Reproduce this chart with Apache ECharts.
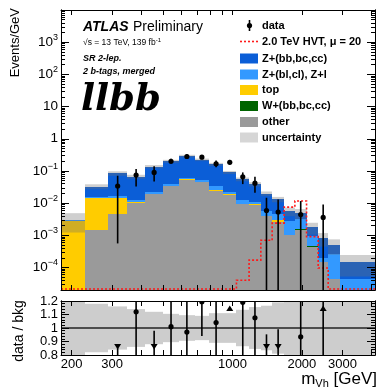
<!DOCTYPE html>
<html><head><meta charset="utf-8">
<script src="https://cdn.jsdelivr.net/npm/echarts@6/dist/echarts.min.js"></script>
<style>html,body{margin:0;padding:0;background:#fff}#c{width:379px;height:389px}</style>
</head><body><div id="c"></div>
<script>
// ---------- data ----------
const binEdges  = [180,228,289,348,418,499,586,685,791,910,1040,1180,1327,1486,1675,1865,2096,2354,2602,2926,4155];
const otherBkg  = [0,1.49e-3,4.6e-3,1.02e-2,1.88e-2,3.3e-2,5.3e-2,4.4e-2,2.4e-2,1.85e-2,9.1e-3,8.6e-3,3.9e-3,2.6e-3,1.03e-3,1.5e-3,4.3e-4,1.5e-4,4.4e-5,0];
const wHF       = [0,0,0,0,0,0,0,0,0,0,0,0,0,0,0,1.2e-4,3.5e-5,0,0,0];
const topBkg    = [2.85e-3,1.32e-2,9.4e-3,6e-4,1.1e-3,2e-3,3.2e-3,2.6e-3,1.4e-3,1.1e-3,5e-4,5e-4,2e-4,4e-4,0,0,0,0,0,0];
const zLight    = [5e-5,3e-4,2.6e-3,1.5e-3,3e-3,5e-3,5e-3,4e-3,8e-3,2.5e-3,2.5e-3,1.5e-3,1.5e-3,1.5e-3,1.67e-3,1.5e-3,4.6e-4,5e-5,2.26e-4,4.4e-5];
const zHF       = [1.5e-4,1.76e-2,6.74e-2,5.42e-2,0.113,0.160,0.229,0.171,0.127,0.068,0.0429,0.0282,0.0141,8.6e-3,2.9e-3,1.73e-3,8.25e-4,6.1e-4,2.3e-4,1.05e-4];
const bkgUnc    = [0.6,0.18,0.16,0.14,0.12,0.105,0.095,0.09,0.11,0.11,0.135,0.155,0.165,0.19,0.3,0.35,0.4,0.45,0.5,0.65];
const signalHVT = [0,0,0,0,0,0,0,0,0,0,4e-5,1.7e-4,7e-4,2.4e-3,7.5e-3,1.16e-2,9.1e-4,9.6e-5,0,0];
const dataVal   = [null,null,0.034,0.0745,0.090,0.20,0.281,0.267,0.166,0.186,0.066,0.0417,5.9e-3,5.3e-3,null,4.4e-3,null,3.6e-3,null,null];
const dataLo    = [null,null,5.6e-4,0.0327,0.047,0.166,0.24,0.23,0.13,0.155,0.039,0.021,0,0,null,0,null,0,null,null];
const dataHi    = [null,null,0.071,0.115,0.139,0.238,0.33,0.31,0.21,0.22,0.09,0.066,0.0147,0.013,null,0.0116,null,9.1e-3,null,null];
const ratioVal  = [null,null,0.40,1.12,0.66,1.01,0.97,1.195,1.04,2.07,1.19,1.076,0.30,0.40,null,0.935,null,4.4,null,null];
const ratioLo   = [null,null,0,0.5,0,0.7,0.7,0.94,0.7,1.6,0.7,0.7,0,0,null,0,null,0,null,null];
const ratioHi   = [null,null,0.85,1.6,0.98,1.4,1.4,1.6,1.4,2.6,1.4,1.4,0.953,0.99,null,1.6,null,9,null,null];
const xTickVals  = [200,300,400,500,600,700,800,900,1000,2000,3000,4000];
const xLabelVals = [200,300,1000,2000,3000];
const yMajorVals = [1e-4,1e-3,1e-2,1e-1,1,10,100,1000];
const rMajorVals = [0.8,0.9,1.0,1.1,1.2];

// ---------- settings ----------
const X_MIN = 180, X_MAX = 4155, Y_MIN = 2e-5, Y_MAX = 1e4, R_MIN = 0.8, R_MAX = 1.2;
const FONT = 'Liberation Sans';
const yMinorVals = [];
for (let e = -5; e <= 3; e++) for (let k = 2; k <= 9; k++) { const v = k * Math.pow(10, e); if (v > Y_MIN && v < Y_MAX) yMinorVals.push(+v.toPrecision(3)); }
const rMinorVals = [];
for (let v = 0.82; v < 1.2; v += 0.02) rMinorVals.push(+v.toFixed(2));

const comps  = [otherBkg, wHF, topBkg, zLight, zHF];
const colors = ['#9a9a9a', '#006400', '#ffcc00', '#3399ff', '#0b5ed7'];
const nb = zHF.length;
const totals = zHF.map((_, i) => comps.reduce((s, a) => s + a[i], 0));
const cy = v => Math.max(v, Y_MIN);
const binData = binEdges.slice(0, -1).map((lo, i) => [lo, binEdges[i + 1], i]);

function xAx(grid, pos, labels) {
  return {
    type: 'log', logBase: 10, gridIndex: grid, position: pos, min: X_MIN, max: X_MAX, z: 10,
    axisLine: { show: true, onZero: false, lineStyle: { color: '#000', width: 1 } },
    axisTick: { show: true, inside: true, length: 5, customValues: xTickVals, lineStyle: { color: '#000' } },
    axisLabel: labels ? { show: true, customValues: xLabelVals, margin: 3, hideOverlap: false, fontFamily: FONT, fontSize: 13, color: '#000', formatter: v => String(Math.round(v)) } : { show: false },
    splitLine: { show: false }
  };
}
function yAx(grid, pos, type, min, max, ticks, len, labels) {
  return {
    type: type, logBase: 10, gridIndex: grid, position: pos, min: min, max: max, z: 10,
    axisLine: { show: true, onZero: false, lineStyle: { color: '#000', width: 1 } },
    axisTick: { show: true, inside: true, length: len, customValues: ticks, lineStyle: { color: '#000' } },
    axisLabel: labels || { show: false },
    splitLine: { show: false }
  };
}
const mainLabel = {
  show: true, customValues: yMajorVals, margin: 3, fontFamily: FONT, color: '#000', hideOverlap: false,
  formatter: v => {
    const e = Math.round(Math.log10(v));
    if (e === 0) return '{b|1}';
    if (e === 1) return '{b|10}';
    return '{b|10}{s|' + (e < 0 ? '\u2212' : '') + Math.abs(e) + '}';
  },
  rich: { b: { fontFamily: FONT, fontSize: 13.5, color: '#000' }, s: { fontFamily: FONT, fontSize: 9, color: '#000', padding: [0, 0, 9, 0] } }
};
const ratioLabel = { show: true, customValues: rMajorVals, margin: 3, fontFamily: FONT, fontSize: 13, color: '#000',
  showMinLabel: true, showMaxLabel: true, hideOverlap: false,
  formatter: v => String(+v.toFixed(1)) };

const option = {
  animation: false,
  backgroundColor: '#fff',
  grid: [
    { left: 61, right: 4, top: 10, height: 280 },
    { left: 61, right: 4, top: 301, height: 54 }
  ],
  xAxis: [xAx(0, 'bottom', false), xAx(0, 'top', false), xAx(1, 'bottom', true), xAx(1, 'top', false)],
  yAxis: [
    yAx(0, 'left', 'log', Y_MIN, Y_MAX, yMajorVals, 8, mainLabel),
    yAx(0, 'left', 'log', Y_MIN, Y_MAX, yMinorVals, 4),
    yAx(0, 'right', 'log', Y_MIN, Y_MAX, yMajorVals, 8),
    yAx(0, 'right', 'log', Y_MIN, Y_MAX, yMinorVals, 4),
    yAx(1, 'left', 'value', R_MIN, R_MAX, rMajorVals, 8, ratioLabel),
    yAx(1, 'left', 'value', R_MIN, R_MAX, rMinorVals, 4),
    yAx(1, 'right', 'value', R_MIN, R_MAX, rMajorVals, 8),
    yAx(1, 'right', 'value', R_MIN, R_MAX, rMinorVals, 4)
  ],
  series: [
    { // stacked backgrounds
      type: 'custom', xAxisIndex: 0, yAxisIndex: 0, clip: true, data: binData,
      renderItem: (p, api) => {
        const lo = api.value(0), hi = api.value(1), i = api.value(2);
        let cum = 0; const ch = [];
        comps.forEach((arr, k) => {
          const v = arr[i]; if (!v) return;
          const b = cum, t = cum + v; cum = t;
          const a = api.coord([lo, cy(t)]), c = api.coord([hi, cy(b)]);
          const x0 = Math.round(a[0]), x1 = Math.round(c[0]), y0 = Math.round(a[1]), y1 = Math.round(c[1]);
          if (y1 > y0) ch.push({ type: 'rect', shape: { x: x0, y: y0, width: x1 - x0, height: y1 - y0 }, style: { fill: colors[k] } });
        });
        return { type: 'group', children: ch };
      }
    },
    { // uncertainty band (main)
      type: 'custom', xAxisIndex: 0, yAxisIndex: 0, clip: true, data: binData,
      renderItem: (p, api) => {
        const lo = api.value(0), hi = api.value(1), i = api.value(2);
        const a = api.coord([lo, cy(totals[i] * (1 + bkgUnc[i]))]), c = api.coord([hi, cy(totals[i] * (1 - bkgUnc[i]))]);
        return { type: 'rect', shape: { x: Math.round(a[0]), y: a[1], width: Math.round(c[0]) - Math.round(a[0]), height: c[1] - a[1] }, style: { fill: 'rgba(110,110,110,0.33)' } };
      }
    },
    { // signal
      type: 'custom', xAxisIndex: 0, yAxisIndex: 0, clip: true, data: [[X_MIN, 1]],
      renderItem: (p, api) => {
        const pts = [];
        for (let i = 0; i < nb; i++) {
          const v = cy(signalHVT[i]);
          pts.push(api.coord([binEdges[i], v]));
          pts.push(api.coord([binEdges[i + 1], v]));
        }
        return { type: 'polyline', shape: { points: pts.map(q => [q[0], Math.min(q[1], p.coordSys.y + p.coordSys.height - 1)]) }, style: { stroke: '#ff1a1a', lineWidth: 1.6, lineDash: [2, 2], fill: null } };
      }
    },
    { // data
      type: 'custom', xAxisIndex: 0, yAxisIndex: 0, clip: true,
      data: dataVal.map((v, i) => v == null ? null : [Math.sqrt(binEdges[i] * binEdges[i + 1]), v, i]).filter(Boolean),
      renderItem: (p, api) => {
        const x = api.value(0), v = api.value(1), i = api.value(2);
        const c = api.coord([x, v]), t = api.coord([x, cy(dataHi[i])]), b = api.coord([x, cy(dataLo[i])]);
        return { type: 'group', children: [
          { type: 'line', shape: { x1: c[0], y1: t[1], x2: c[0], y2: b[1] }, style: { stroke: '#000', lineWidth: 1.6 } },
          { type: 'circle', shape: { cx: c[0], cy: c[1], r: 2.6 }, style: { fill: '#000' } }
        ] };
      }
    },
    { // ratio band
      type: 'custom', xAxisIndex: 2, yAxisIndex: 4, clip: true, data: binData,
      renderItem: (p, api) => {
        const lo = api.value(0), hi = api.value(1), i = api.value(2);
        const a = api.coord([lo, Math.min(1 + bkgUnc[i], 1.3)]), c = api.coord([hi, Math.max(1 - bkgUnc[i], 0.7)]);
        return { type: 'rect', shape: { x: Math.round(a[0]), y: a[1], width: Math.round(c[0]) - Math.round(a[0]), height: c[1] - a[1] }, style: { fill: '#cdcdcd' } };
      }
    },
    { // line at 1
      type: 'custom', xAxisIndex: 2, yAxisIndex: 4, clip: true, data: [[X_MIN, 1]],
      renderItem: (p, api) => {
        const a = api.coord([X_MIN, 1]), b = api.coord([X_MAX, 1]);
        return { type: 'line', shape: { x1: a[0], y1: a[1], x2: b[0], y2: b[1] }, style: { stroke: '#222', lineWidth: 1.6 } };
      }
    },
    { // ratio points
      type: 'custom', xAxisIndex: 2, yAxisIndex: 4, clip: true,
      data: ratioVal.map((v, i) => v == null ? null : [Math.sqrt(binEdges[i] * binEdges[i + 1]), v, i]).filter(Boolean),
      renderItem: (p, api) => {
        const x = api.value(0), v = api.value(1), i = api.value(2);
        const ch = [];
        const lo = Math.max(ratioLo[i], 0.7), hi = Math.min(ratioHi[i], 1.3);
        if (hi > R_MIN && lo < R_MAX) {
          const t = api.coord([x, hi]), b = api.coord([x, lo]);
          ch.push({ type: 'line', shape: { x1: t[0], y1: t[1], x2: b[0], y2: b[1] }, style: { stroke: '#000', lineWidth: 1.6 } });
        }
        if (v < R_MIN) {
          const c = api.coord([x, 0.863]);
          ch.push({ type: 'polygon', shape: { points: [[c[0] - 3.5, c[1] - 2.5], [c[0] + 3.5, c[1] - 2.5], [c[0], c[1] + 3]] }, style: { fill: '#000' } });
        } else if (v > R_MAX) {
          const c = api.coord([x, 1.145]);
          ch.push({ type: 'polygon', shape: { points: [[c[0] - 3.5, c[1] + 2.5], [c[0] + 3.5, c[1] + 2.5], [c[0], c[1] - 3]] }, style: { fill: '#000' } });
        } else {
          const c = api.coord([x, v]);
          ch.push({ type: 'circle', shape: { cx: c[0], cy: c[1], r: 2.6 }, style: { fill: '#000' } });
        }
        return { type: 'group', children: ch };
      }
    }
  ],
  graphic: [
    { type: 'text', x: 15, y: 8, rotation: Math.PI / 2, style: { text: 'Events/GeV', font: '13px "Liberation Sans"', fill: '#000', align: 'right', verticalAlign: 'middle' } },
    { type: 'text', x: 19, y: 331, rotation: Math.PI / 2, style: { text: 'data / bkg', font: '14px "Liberation Sans"', fill: '#000', align: 'center', verticalAlign: 'middle' } },
    { type: 'text', x: 377, y: 379, style: { text: '{m|m}{s|Vh}{g| [GeV]}', align: 'right', verticalAlign: 'middle', fill: '#000',
        rich: { m: { fontFamily: FONT, fontSize: 17 }, s: { fontFamily: FONT, fontSize: 11, padding: [9, 0, 0, 0] }, g: { fontFamily: FONT, fontSize: 17 } } } },
    { type: 'text', x: 83, y: 27, style: { text: 'ATLAS', font: 'italic bold 14px "Liberation Sans"', fill: '#000', verticalAlign: 'middle' } },
    { type: 'text', x: 133, y: 27, style: { text: 'Preliminary', font: '14px "Liberation Sans"', fill: '#000', verticalAlign: 'middle' } },
    { type: 'text', x: 83, y: 43, style: { text: '{a|\u221As = 13 TeV, 139 fb}{s|-1}', verticalAlign: 'middle', fill: '#000',
        rich: { a: { fontFamily: FONT, fontSize: 8.5 }, s: { fontFamily: FONT, fontSize: 6, padding: [0, 0, 6, 0] } } } },
    { type: 'text', x: 83, y: 59, style: { text: 'SR 2-lep.', font: 'italic bold 9px "Liberation Sans"', fill: '#000', verticalAlign: 'middle' } },
    { type: 'text', x: 83, y: 72, style: { text: '2 b-tags, merged', font: 'italic bold 9px "Liberation Sans"', fill: '#000', verticalAlign: 'middle' } },
    { type: 'text', x: 81, y: 100, style: { text: 'llbb', font: 'italic bold 37px "DejaVu Serif"', fill: '#000', verticalAlign: 'middle' } },
    // legend
    { type: 'line', shape: { x1: 249.5, y1: 20, x2: 249.5, y2: 31 }, style: { stroke: '#000', lineWidth: 1.6 } },
    { type: 'circle', shape: { cx: 249.5, cy: 25.5, r: 2.6 }, style: { fill: '#000' } },
    { type: 'text', x: 262, y: 25.5, style: { text: 'data', font: 'bold 11px "Liberation Sans"', fill: '#000', verticalAlign: 'middle' } },
    { type: 'line', shape: { x1: 240, y1: 41.5, x2: 259, y2: 41.5 }, style: { stroke: '#ff1a1a', lineWidth: 1.6, lineDash: [2, 2] } },
    { type: 'text', x: 262, y: 41.5, style: { text: '2.0 TeV HVT, \u03bc = 20', font: 'bold 11px "Liberation Sans"', fill: '#000', verticalAlign: 'middle' } },
    { type: 'rect', shape: { x: 240, y: 53.5, width: 18, height: 10 }, style: { fill: colors[4] } },
    { type: 'text', x: 262, y: 58.5, style: { text: 'Z+(bb,bc,cc)', font: 'bold 11px "Liberation Sans"', fill: '#000', verticalAlign: 'middle' } },
    { type: 'rect', shape: { x: 240, y: 69.5, width: 18, height: 10 }, style: { fill: colors[3] } },
    { type: 'text', x: 262, y: 74.5, style: { text: 'Z+(bl,cl), Z+l', font: 'bold 11px "Liberation Sans"', fill: '#000', verticalAlign: 'middle' } },
    { type: 'rect', shape: { x: 240, y: 85, width: 18, height: 10 }, style: { fill: colors[2] } },
    { type: 'text', x: 262, y: 90, style: { text: 'top', font: 'bold 11px "Liberation Sans"', fill: '#000', verticalAlign: 'middle' } },
    { type: 'rect', shape: { x: 240, y: 101, width: 18, height: 10 }, style: { fill: colors[1] } },
    { type: 'text', x: 262, y: 106, style: { text: 'W+(bb,bc,cc)', font: 'bold 11px "Liberation Sans"', fill: '#000', verticalAlign: 'middle' } },
    { type: 'rect', shape: { x: 240, y: 117, width: 18, height: 10 }, style: { fill: colors[0] } },
    { type: 'text', x: 262, y: 122, style: { text: 'other', font: 'bold 11px "Liberation Sans"', fill: '#000', verticalAlign: 'middle' } },
    { type: 'rect', shape: { x: 240, y: 132.5, width: 18, height: 10 }, style: { fill: '#d6d6d6' } },
    { type: 'text', x: 262, y: 137.5, style: { text: 'uncertainty', font: 'bold 11px "Liberation Sans"', fill: '#000', verticalAlign: 'middle' } }
  ]
};
const chart = echarts.init(document.getElementById('c'), null, { renderer: 'canvas', width: 379, height: 389 });
chart.setOption(option);
</script>
</body></html>
